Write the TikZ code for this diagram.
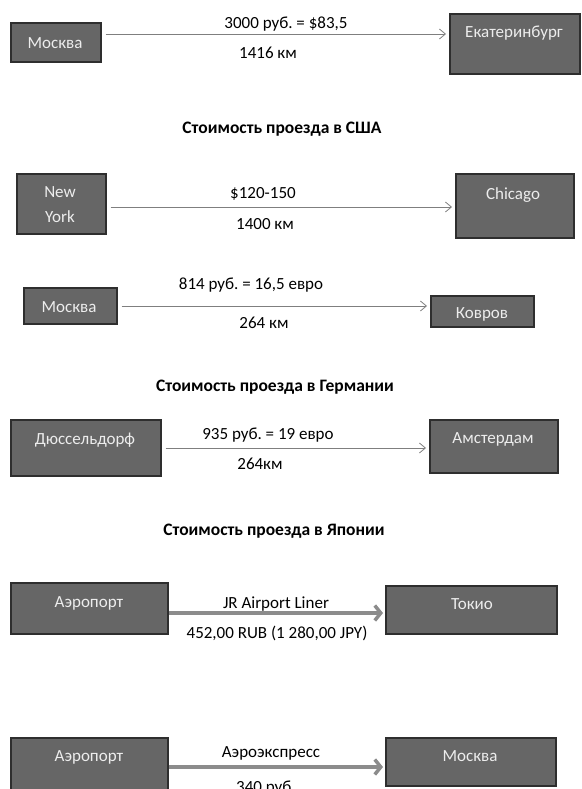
\documentclass[tikz,border=0pt]{standalone}
\usepackage{fontspec}
\setmainfont{Carlito}
\usetikzlibrary{arrows.meta,calc,positioning}
\frenchspacing
\definecolor{boxfill}{HTML}{666666}
\definecolor{boxline}{HTML}{2E2E2E}
\definecolor{arrgray}{HTML}{7F7F7F}
\tikzset{
  every node/.style={font=\fontsize{17}{25}\selectfont},
  box/.style={draw=boxline,fill=boxfill,line width=1.6pt,anchor=north west,inner sep=0pt},
  boxtxt/.style={text=white!93!black,text height=14pt,text depth=2pt},
  lbl/.style={text=black,text height=14pt,text depth=2pt},
  head/.style={font=\fontsize{17.5}{20}\selectfont\bfseries,text height=14pt,text depth=2pt},
  thinarr/.style={draw=arrgray,line width=0.8pt,-{Straight Barb[length=6pt,width=10pt]},shorten <=4pt,shorten >=3pt},
  thickarr/.style={draw=arrgray!90,line width=3.5pt,-{Straight Barb[length=6pt,width=15pt]},shorten >=2pt}
}
\begin{document}
\begin{tikzpicture}[x=1pt,y=-1pt]
\clip (0,0) rectangle (581,789);
% Москва -> Екатеринбург
\node[box,minimum width=90pt,minimum height=39pt] (msk1) at (10,22) {};
\node[box,minimum width=130pt,minimum height=60pt] (ekb) at (449,13) {};
\node[boxtxt] (msk1-t) at (55,43) {Москва};
\node[boxtxt] (ekb-t) at (514,32) {Екатеринбург};
\draw[thinarr] (msk1.east |- 0,34) -- (ekb.west |- 0,34);
\node[lbl] (price1) at (286,23) {3000 руб. = \$83,5};
\node[lbl] (dist1) at (268,53) {1416 км};

\node[head] (usa) at (282,127) {Стоимость проезда в США};

% New York -> Chicago
\node[box,minimum width=89pt,minimum height=60pt] (ny) at (16,173) {};
\node[box,minimum width=118pt,minimum height=64pt] (chi) at (455,173) {};
\node[text=white!93!black,align=center] (ny-t) at (60,205) {New\\York};
\node[boxtxt] (chi-t) at (513,193) {Chicago};
\draw[thinarr] (ny.east |- 0,207) -- (chi.west |- 0,207);
\node[lbl] (price2) at (263,192) {\$120-150};
\node[lbl] (dist2) at (265,223) {1400 км};

% Москва -> Ковров
\node[box,minimum width=93pt,minimum height=36pt] (msk2) at (23,287) {};
\node[box,minimum width=103pt,minimum height=31pt] (kov) at (430,295) {};
\node[boxtxt] (msk2-t) at (69,306) {Москва};
\node[boxtxt] (kov-t) at (482,312) {Ковров};
\draw[thinarr] (msk2.east |- 0,306) -- (kov.west |- 0,306);
\node[lbl] (price3) at (251,283) {814 руб. = 16,5 евро};
\node[lbl] (dist3) at (264,322) {264 км};

\node[head] (ger) at (275,385) {Стоимость проезда в Германии};

% Дюссельдорф -> Амстердам
\node[box,minimum width=150pt,minimum height=56pt] (dus) at (10,419) {};
\node[box,minimum width=128pt,minimum height=53pt] (ams) at (429,419) {};
\node[boxtxt] (dus-t) at (85,438) {Дюссельдорф};
\node[boxtxt] (ams-t) at (493,437) {Амстердам};
\draw[thinarr] (dus.east |- 0,448) -- (ams.west |- 0,448);
\node[lbl] (price4) at (268,433) {935 руб. = 19 евро};
\node[lbl] (dist4) at (260,463) {264км};

\node[head] (jap) at (274,529) {Стоимость проезда в Японии};

% Аэропорт -> Токио
\node[box,minimum width=157pt,minimum height=51pt] (air1) at (10,582) {};
\node[box,minimum width=171pt,minimum height=48pt] (tok) at (385,585) {};
\node[boxtxt] (air1-t) at (89,601) {Аэропорт};
\node[boxtxt] (tok-t) at (472,603) {Токио};
\draw[thickarr] (air1.east |- 0,613) -- (tok.west |- 0,613);
\node[lbl] (train1) at (276,602) {JR Airport Liner};
\node[lbl] (price5) at (277,632) {452,00 RUB (1 280,00 JPY)};

% Аэропорт -> Москва
\node[box,minimum width=157pt,minimum height=60pt] (air2) at (10,737) {};
\node[box,minimum width=170pt,minimum height=48pt] (msk3) at (385,737) {};
\node[boxtxt] (air2-t) at (89,755) {Аэропорт};
\node[boxtxt] (msk3-t) at (470,755) {Москва};
\draw[thickarr] (air2.east |- 0,767) -- (msk3.west |- 0,767);
\node[lbl] (train2) at (271,751) {Аэроэкспресс};
\node[lbl] (price6) at (266,786) {340 руб.};
\end{tikzpicture}
\end{document}
